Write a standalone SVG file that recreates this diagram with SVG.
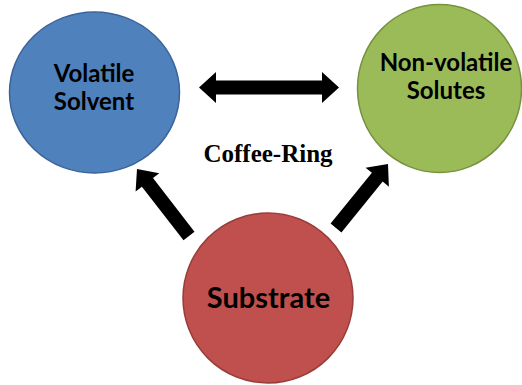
<svg xmlns="http://www.w3.org/2000/svg" width="522" height="385" viewBox="0 0 522 385">
<style>
.lbl{font-family:Lato,"Liberation Sans",sans-serif;font-weight:bold;fill:#000;text-anchor:middle}
.ttl{font-family:"Liberation Serif","Times New Roman",serif;font-weight:bold;fill:#000;text-anchor:middle}
.arr{fill:#000}
</style>
<rect width="522" height="385" fill="#fff"/>
<g id="node-volatile-solvent">
<ellipse cx="94.5" cy="92.5" rx="85" ry="80.5" fill="#4f81bd" stroke="#3b649a" stroke-width="1.5"/>
<text class="lbl" x="94" y="82" font-size="24">Volatile</text>
<text class="lbl" x="94" y="110" font-size="24">Solvent</text>
</g>
<g id="node-non-volatile-solutes">
<ellipse cx="439.5" cy="88.5" rx="82" ry="84" fill="#9bbb59" stroke="#77923f" stroke-width="1.5"/>
<text class="lbl" x="446" y="71" font-size="24">Non-volatile</text>
<text class="lbl" x="446" y="99" font-size="24">Solutes</text>
</g>
<g id="node-substrate">
<ellipse cx="268" cy="298" rx="85" ry="85" fill="#c0504d" stroke="#973d3a" stroke-width="1.5"/>
<text class="lbl" x="268.5" y="308" font-size="29">Substrate</text>
</g>
<g id="label-coffee-ring">
<text class="ttl" x="268" y="162" font-size="25">Coffee-Ring</text>
</g>
<g id="connectors">
<polygon class="arr" points="199,87.5 216,72 216,80.5 322,80.5 322,72 339,87.5 322,103 322,94.5 216,94.5 216,103"/>
<polygon class="arr" points="194.5,231.7 153,178.1 159.3,173.2 137,169 135.6,191.6 141.9,186.7 183.5,240.3"/>
<polygon class="arr" points="341.4,232.4 382.7,181.6 388.9,186.7 388,164 365.6,167.7 371.9,172.8 330.6,223.6"/>
</g>
</svg>
